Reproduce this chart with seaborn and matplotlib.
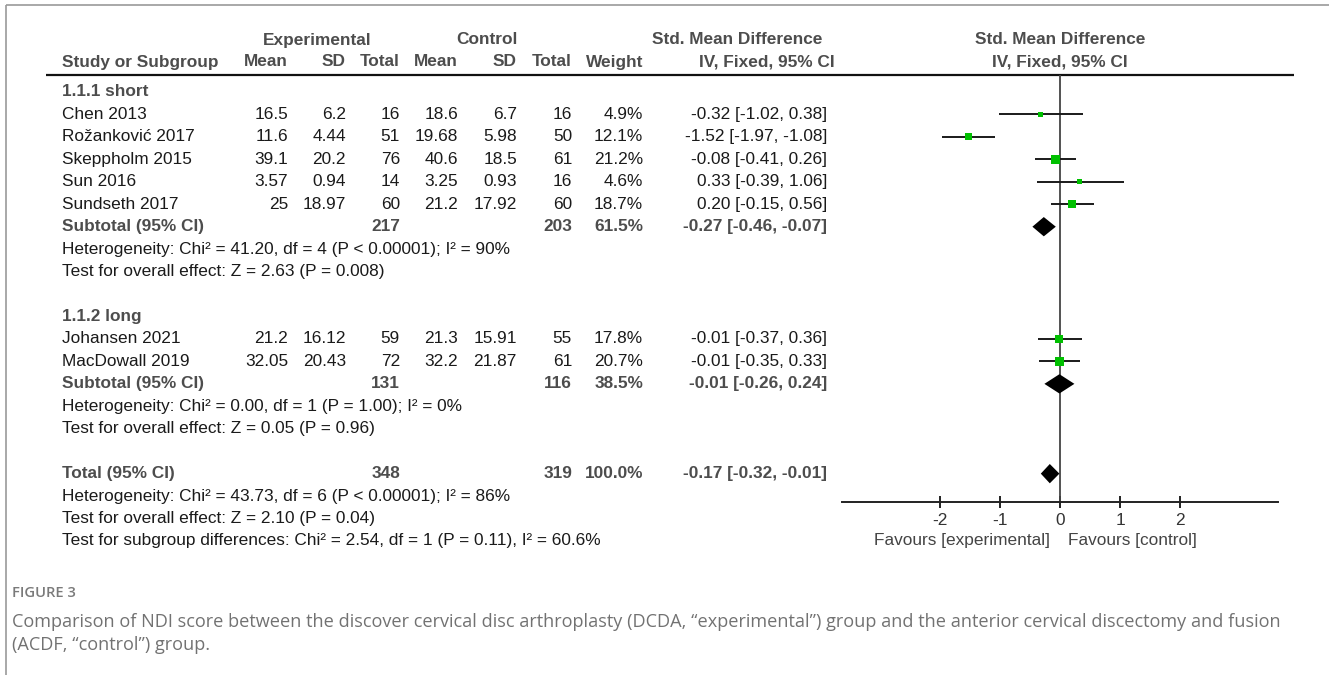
import matplotlib
matplotlib.use("Agg")
import matplotlib.pyplot as plt
import seaborn as sns
import pandas as pd

# ---------------- data ----------------
studies = ["Chen 2013", "Rožanković 2017", "Skeppholm 2015", "Sun 2016",
           "Sundseth 2017", "Johansen 2021", "MacDowall 2019"]
exp_mean = [16.5, 11.6, 39.1, 3.57, 25, 21.2, 32.05]
exp_sd = [6.2, 4.44, 20.2, 0.94, 18.97, 16.12, 20.43]
exp_n = [16, 51, 76, 14, 60, 59, 72]
ctl_mean = [18.6, 19.68, 40.6, 3.25, 21.2, 21.3, 32.2]
ctl_sd = [6.7, 5.98, 18.5, 0.93, 17.92, 15.91, 21.87]
ctl_n = [16, 50, 61, 16, 60, 55, 61]
weight = [4.9, 12.1, 21.2, 4.6, 18.7, 17.8, 20.7]
smd = [-0.32, -1.52, -0.08, 0.33, 0.20, -0.01, -0.01]
ci_low = [-1.02, -1.97, -0.41, -0.39, -0.15, -0.37, -0.35]
ci_high = [0.38, -1.08, 0.26, 1.06, 0.56, 0.36, 0.33]

group_labels = ["1.1.1 short", "1.1.2 long"]
pooled_labels = ["Subtotal (95% CI)", "Subtotal (95% CI)", "Total (95% CI)"]
pooled_exp_n = [217, 131, 348]
pooled_ctl_n = [203, 116, 319]
pooled_weight = [61.5, 38.5, 100.0]
pooled_smd = [-0.27, -0.01, -0.17]
pooled_low = [-0.46, -0.26, -0.32]
pooled_high = [-0.07, 0.24, -0.01]

heterogeneity = [
    "Heterogeneity: Chi² = 41.20, df = 4 (P < 0.00001); I² = 90%",
    "Heterogeneity: Chi² = 0.00, df = 1 (P = 1.00); I² = 0%",
    "Heterogeneity: Chi² = 43.73, df = 6 (P < 0.00001); I² = 86%",
]
overall_effect = [
    "Test for overall effect: Z = 2.63 (P = 0.008)",
    "Test for overall effect: Z = 0.05 (P = 0.96)",
    "Test for overall effect: Z = 2.10 (P = 0.04)",
]
subgroup_diff = "Test for subgroup differences: Chi² = 2.54, df = 1 (P = 0.11), I² = 60.6%"

x_ticks = [-2, -1, 0, 1, 2]
favours = ["Favours [experimental]", "Favours [control]"]
fig_label = "FIGURE 3"
caption = ["Comparison of NDI score between the discover cervical disc arthroplasty (DCDA, \u201cexperimental\u201d) group and the anterior cervical discectomy and fusion",
           "(ACDF, \u201ccontrol\u201d) group."]

# ---------------- layout (rows) ----------------
study_rows = [1, 2, 3, 4, 5, 11, 12]
group_rows = [0, 10]
pooled_rows = [6, 13, 17]
het_rows = [7, 14, 18]
overall_rows = [8, 15, 19]
subdiff_row = 20

W, H = 1329, 675
ROW0, ROWH = 92.0, 22.45


def ypix(r):
    return ROW0 + ROWH * r


sns.set_theme(style="white")
plt.rcParams["font.family"] = ["Liberation Sans", "DejaVu Sans"]

fig = plt.figure(figsize=(W / 100, H / 100), dpi=100)
fig.patch.set_facecolor("white")

tx = fig.add_axes([0, 0, 1, 1])
tx.set_xlim(0, W)
tx.set_ylim(H, 0)
tx.axis("off")

FS = 12.4
C_BOLD = "#4d4d4d"
C_TXT = "#1a1a1a"

# frame
tx.plot([6, W], [5, 5], color="#9a9a9a", lw=1.2, solid_capstyle="butt")
tx.plot([6, 6], [5, H], color="#9a9a9a", lw=1.2, solid_capstyle="butt")
# header rule
tx.plot([46, 1294], [75, 75], color="#111111", lw=1.6, solid_capstyle="butt")

# headers
hb = dict(fontsize=FS, fontweight="bold", color=C_BOLD, va="center")
tx.text(317, 40, "Experimental", ha="center", **hb)
tx.text(518, 40, "Control", ha="right", **hb)
tx.text(737, 40, "Std. Mean Difference", ha="center", **hb)
tx.text(1060, 40, "Std. Mean Difference", ha="center", **hb)
tx.text(62, 62, "Study or Subgroup", ha="left", **hb)
col_right = [288, 346, 400, 458, 517, 572, 643]
for xr, lab in zip(col_right, ["Mean", "SD", "Total", "Mean", "SD", "Total", "Weight"]):
    tx.text(xr, 62, lab, ha="right", **hb)
tx.text(835, 62, "IV, Fixed, 95% CI", ha="right", **hb)
tx.text(1060, 62, "IV, Fixed, 95% CI", ha="center", **hb)

CI_RIGHT = 827
rt = dict(fontsize=FS, color=C_TXT, va="center")
for g, r in zip(group_labels, group_rows):
    tx.text(62, ypix(r), g, ha="left", **hb)

for i, r in enumerate(study_rows):
    y = ypix(r)
    tx.text(62, y, studies[i], ha="left", **rt)
    vals = [f"{exp_mean[i]:g}", f"{exp_sd[i]:g}", f"{exp_n[i]}",
            f"{ctl_mean[i]:g}", f"{ctl_sd[i]:g}", f"{ctl_n[i]}", f"{weight[i]:.1f}%"]
    for xr, v in zip(col_right, vals):
        tx.text(xr, y, v, ha="right", **rt)
    tx.text(CI_RIGHT, y, f"{smd[i]:.2f} [{ci_low[i]:.2f}, {ci_high[i]:.2f}]", ha="right", **rt)

for i, r in enumerate(pooled_rows):
    y = ypix(r)
    tx.text(62, y, pooled_labels[i], ha="left", **hb)
    tx.text(col_right[2], y, f"{pooled_exp_n[i]}", ha="right", **hb)
    tx.text(col_right[5], y, f"{pooled_ctl_n[i]}", ha="right", **hb)
    tx.text(col_right[6], y, f"{pooled_weight[i]:.1f}%", ha="right", **hb)
    tx.text(CI_RIGHT, y, f"{pooled_smd[i]:.2f} [{pooled_low[i]:.2f}, {pooled_high[i]:.2f}]",
            ha="right", **hb)

for txt, r in zip(heterogeneity, het_rows):
    tx.text(62, ypix(r), txt, ha="left", **rt)
for txt, r in zip(overall_effect, overall_rows):
    tx.text(62, ypix(r), txt, ha="left", **rt)
tx.text(62, ypix(subdiff_row), subgroup_diff, ha="left", **rt)

# favours labels
tx.text(962, 541, favours[0], ha="center", va="center", fontsize=FS, color="#444444")
tx.text(1132, 541, favours[1], ha="center", va="center", fontsize=FS, color="#444444")

# caption
cap_font = ["Open Sans", "DejaVu Sans"]
tx.text(12, 593, fig_label, ha="left", va="center", fontsize=10.6, color="#7a7a7a",
        family=cap_font, fontweight="semibold")
tx.text(12, 622, caption[0], ha="left", va="center", fontsize=13.1, color="#727272",
        family=cap_font, fontweight="normal")
tx.text(12, 645, caption[1], ha="left", va="center", fontsize=13.1, color="#727272",
        family=cap_font, fontweight="normal")

# ---------------- forest axes ----------------
AX_L, AX_R, AX_T, AX_B = 842, 1278, 75, 502
ax = fig.add_axes([AX_L / W, 1 - AX_B / H, (AX_R - AX_L) / W, (AX_B - AX_T) / H])
ax.set_facecolor("none")
ax.set_xlim(-3.633, 3.633)
ax.set_ylim((AX_B - ROW0) / ROWH, (AX_T - ROW0) / ROWH)

ax.axvline(0, color="#444444", lw=1.3, zorder=1)

df = pd.DataFrame({"study": studies, "smd": smd, "low": ci_low, "high": ci_high,
                   "weight": weight, "row": study_rows})
ax.hlines(df["row"], df["low"], df["high"], color="#1a1a1a", lw=1.4, zorder=2)
sns.scatterplot(data=df, x="smd", y="row", size="weight", sizes=(14, 40),
                marker="s", color="#00c000", linewidth=0, legend=False, ax=ax, zorder=3)

DH = 0.43
for s, lo, hi, r in zip(pooled_smd, pooled_low, pooled_high, pooled_rows):
    ax.fill([lo, s, hi, s], [r, r - DH, r, r + DH], color="black", lw=0, zorder=4)

for side in ["top", "left", "right"]:
    ax.spines[side].set_visible(False)
ax.spines["bottom"].set_color("#222222")
ax.spines["bottom"].set_linewidth(1.4)
ax.set_xticks(x_ticks)
ax.set_xticklabels([f"{t}" for t in x_ticks])
ax.set_yticks([])
ax.tick_params(axis="x", direction="inout", length=8, width=1.4, color="#222222",
               labelsize=FS, labelcolor="#333333", pad=4, bottom=True)
ax.set_xlabel("")
ax.set_ylabel("")
ax.grid(False)

fig.savefig("out.png", dpi=100, facecolor="white")
